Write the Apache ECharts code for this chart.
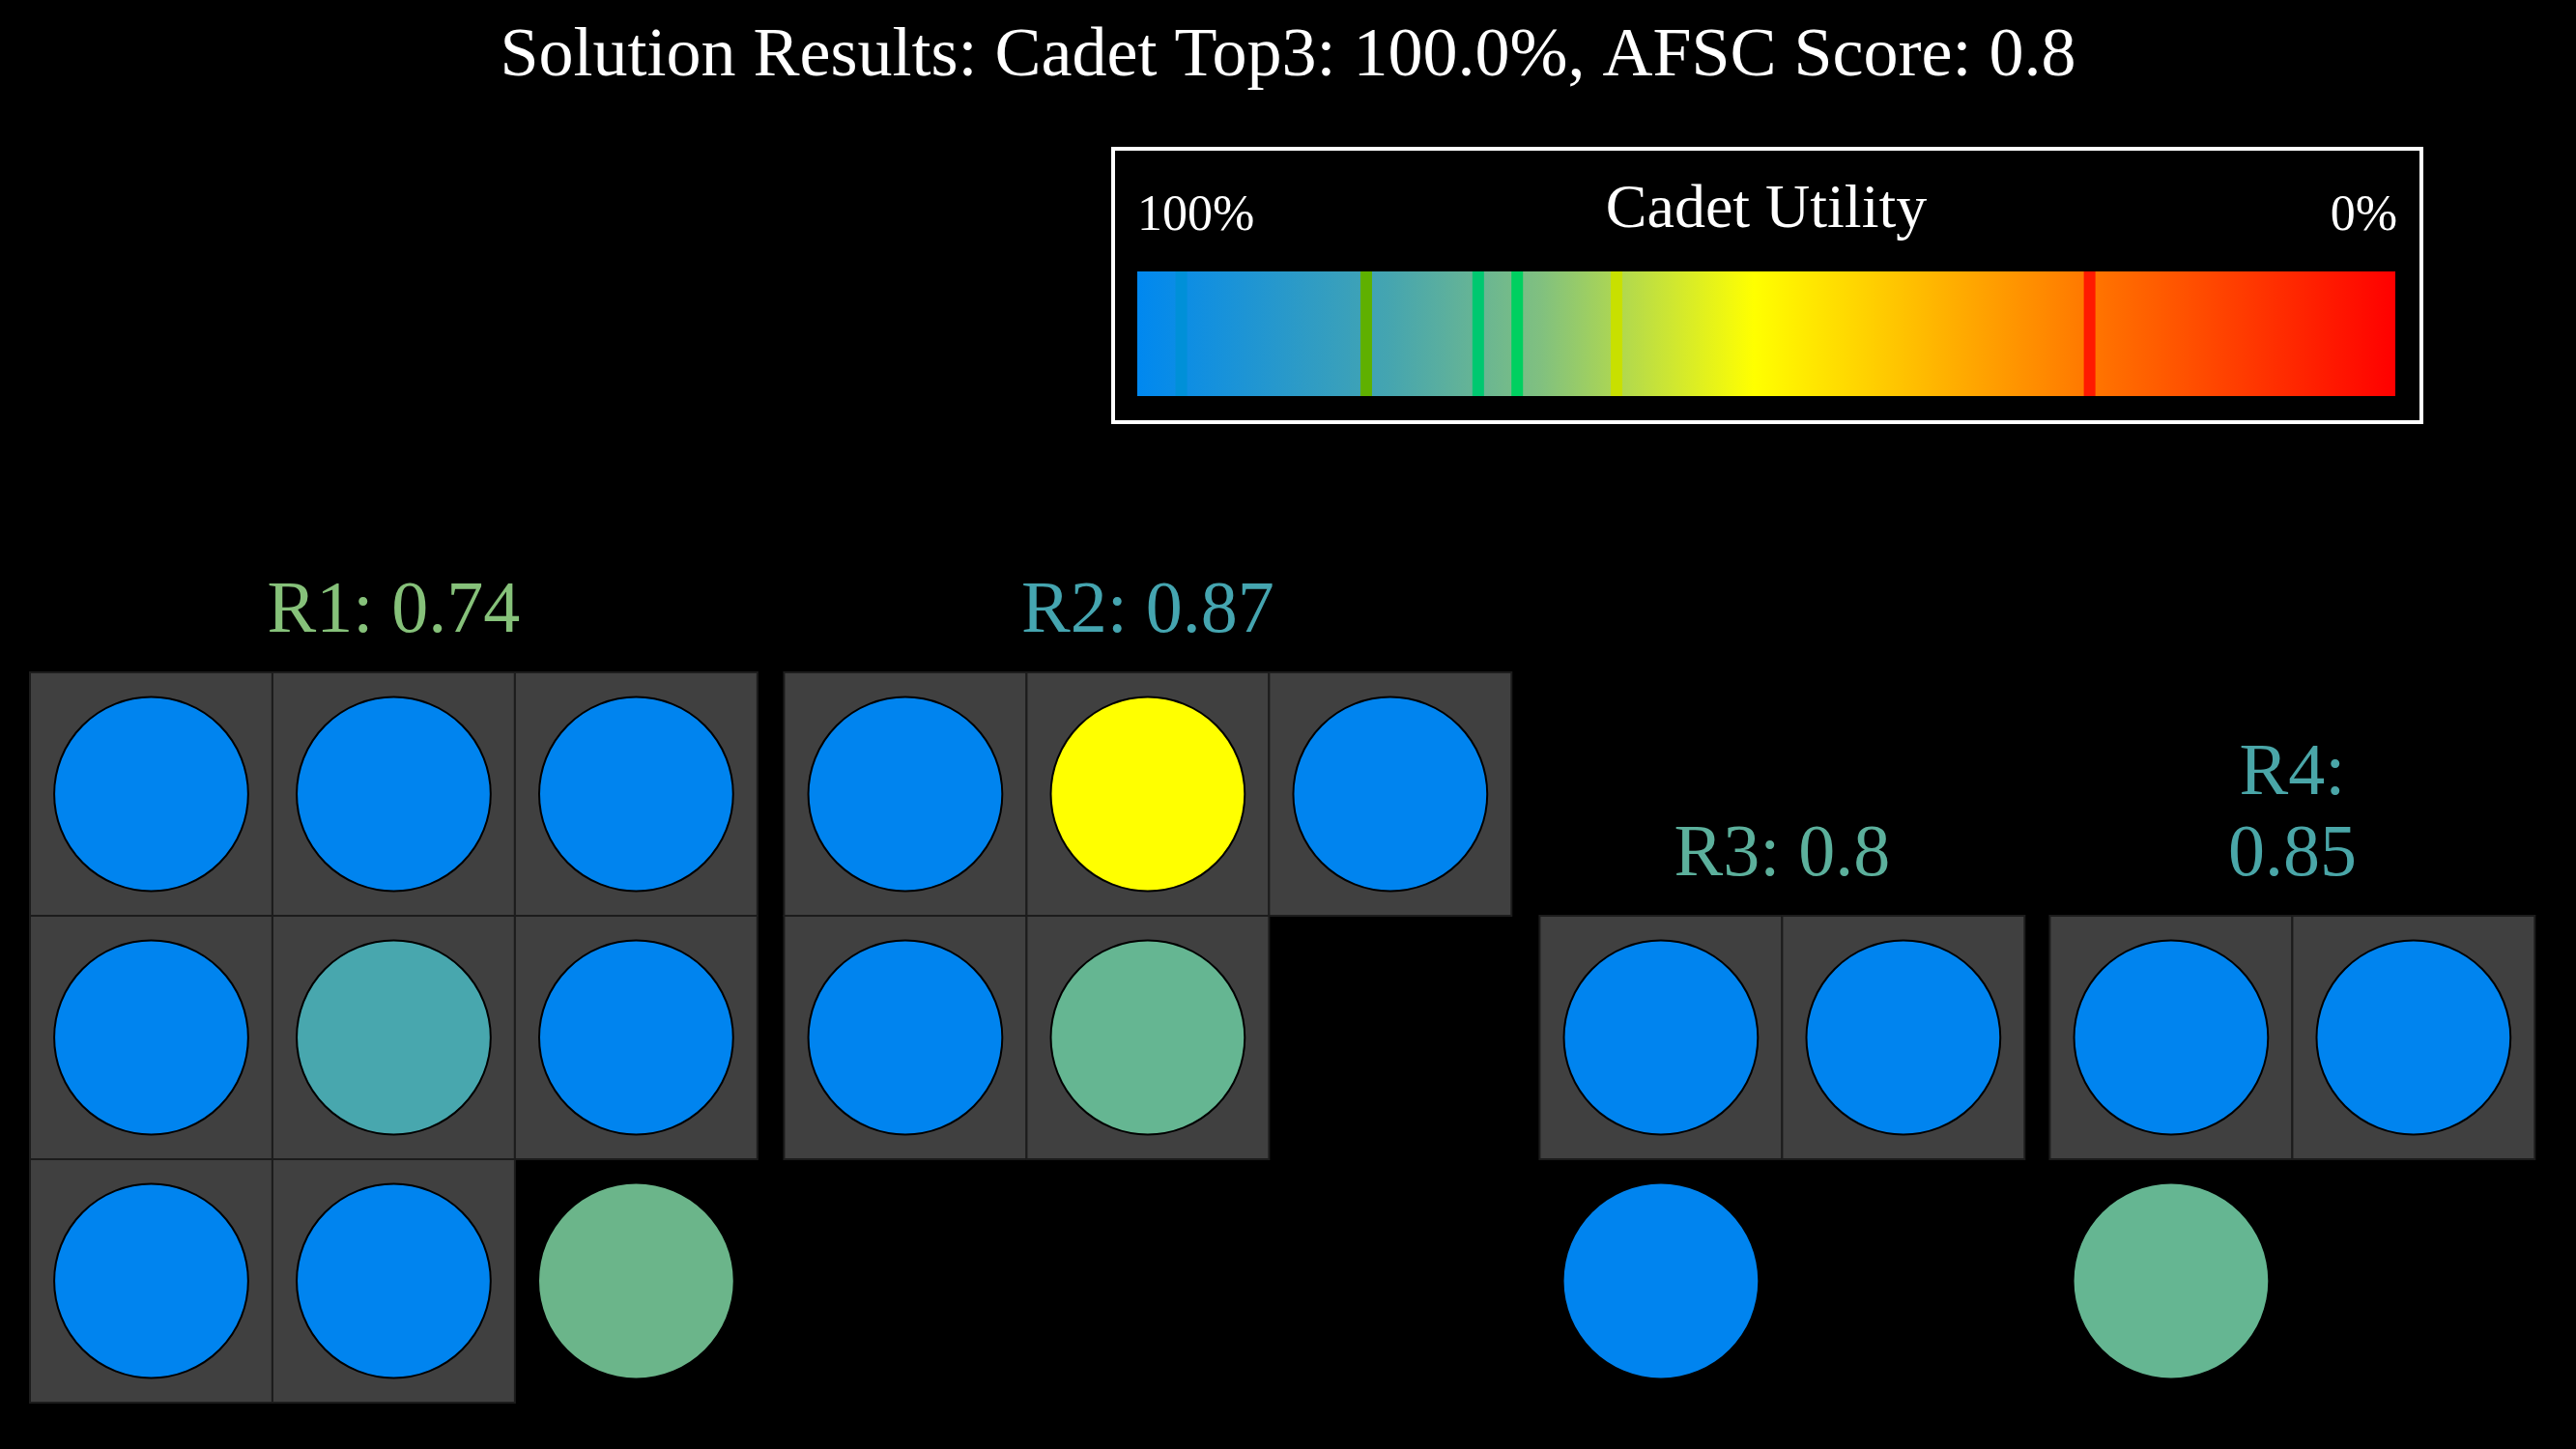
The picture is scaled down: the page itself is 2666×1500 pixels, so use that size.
<!DOCTYPE html>
<html><head><meta charset="utf-8">
<script src="https://cdn.jsdelivr.net/npm/echarts@6/dist/echarts.min.js"></script>
<style>html,body{margin:0;background:#000}#c{width:2666px;height:1500px}</style>
</head><body><div id="c"></div>
<script>
// Groups: name, score, label colour, x offset (cell units), first row
const groupNames = ['R1', 'R2', 'R3', 'R4'];
const groupScores = ['0.74', '0.87', '0.8', '0.85'];
const groupColors = ['#86c17a', '#45a5b0', '#5cb09c', '#4aa6a8'];
const groupOffsets = [0, 3.11, 6.226, 8.33];
const groupStartRow = [0, 0, 1, 1];
// Cells: [group, row, col, fill colour, inside a cell (1) or not (0)]
const cells = [
  [0,0,0,'#0084ef',1],[0,0,1,'#0084ef',1],[0,0,2,'#0084ef',1],
  [0,1,0,'#0084ef',1],[0,1,1,'#48a7ae',1],[0,1,2,'#0084ef',1],
  [0,2,0,'#0084ef',1],[0,2,1,'#0084ef',1],[0,2,2,'#6bb58a',0],
  [1,0,0,'#0084ef',1],[1,0,1,'#ffff00',1],[1,0,2,'#0084ef',1],
  [1,1,0,'#0084ef',1],[1,1,1,'#65b692',1],
  [2,0,0,'#0084ef',1],[2,0,1,'#0084ef',1],[2,1,0,'#0084ef',0],
  [3,0,0,'#0084ef',1],[3,0,1,'#0084ef',1],[3,1,0,'#65b692',0]
];
// Colour bar (utility 100 -> 0 left to right)
const barStops = [[0,'#0088f0'],[0.2,'#45a5b0'],[0.32,'#80c080'],[0.49,'#ffff00'],[0.75,'#ff7a00'],[1,'#ff0000']];
const stripeUtil = [96.5, 81.8, 72.9, 69.8, 61.9, 24.3];
const stripeColors = ['#0090d8','#5fb000','#00c870','#00d060','#c8e000','#ff1a00'];

const chart = echarts.init(document.getElementById('c'));
const F = 'Liberation Serif';
const U = 252;
chart.setOption({
  backgroundColor: '#000',
  animation: false,
  title: {text: 'Solution Results: Cadet Top3: 100.0%, AFSC Score: 0.8', left: 'center', top: 18,
    textStyle: {color: '#fff', fontFamily: F, fontSize: 72, fontWeight: 'normal'}},
  grid: [
    {left: 31, top: 696, width: 10.5 * U, height: 3 * U},
    {left: 1177, top: 281, width: 1302, height: 129}
  ],
  xAxis: [
    {gridIndex: 0, type: 'value', min: 0, max: 10.5, show: false},
    {gridIndex: 1, type: 'value', min: 0, max: 100, inverse: true, show: false}
  ],
  yAxis: [
    {gridIndex: 0, type: 'value', min: 0, max: 3, inverse: true, show: false},
    {gridIndex: 1, type: 'value', min: 0, max: 1, show: false}
  ],
  graphic: [
    {type: 'rect', shape: {x: 1152, y: 154, width: 1354, height: 283}, style: {fill: 'none', stroke: '#fff', lineWidth: 4}},
    {type: 'text', left: 1177, top: 198, style: {text: '100%', fill: '#fff', font: '52px "Liberation Serif"'}},
    {type: 'text', right: 2666 - 2481, top: 198, style: {text: '0%', fill: '#fff', font: '52px "Liberation Serif"'}},
    {type: 'text', x: 1828, y: 218, style: {text: 'Cadet Utility', fill: '#fff', font: '64px "Liberation Serif"', textAlign: 'center', textVerticalAlign: 'middle'}}
  ],
  series: [
    {type: 'custom', xAxisIndex: 1, yAxisIndex: 1, data: [[0]], renderItem: function (p, api) {
      const a = api.coord([100, 1]), b = api.coord([0, 0]);
      return {type: 'rect', shape: {x: a[0], y: a[1], width: b[0] - a[0], height: b[1] - a[1]},
        style: {fill: new echarts.graphic.LinearGradient(0, 0, 1, 0, barStops.map(s => ({offset: s[0], color: s[1]})))}};
    }},
    {type: 'custom', xAxisIndex: 1, yAxisIndex: 1, data: stripeUtil.map((u, i) => [u, i]), renderItem: function (p, api) {
      const a = api.coord([api.value(0), 1]), b = api.coord([api.value(0), 0]);
      return {type: 'rect', shape: {x: a[0] - 6, y: a[1], width: 12, height: b[1] - a[1]}, style: {fill: stripeColors[api.value(1)]}};
    }},
    {type: 'custom', xAxisIndex: 0, yAxisIndex: 0, data: cells.map(c => [groupOffsets[c[0]] + c[2], groupStartRow[c[0]] + c[1], c[4], c[0]]),
     renderItem: function (p, api) {
      const c = cells[p.dataIndex];
      const x0 = api.value(0), y0 = api.value(1);
      const a = api.coord([x0, y0]), b = api.coord([x0 + 1, y0 + 1]);
      const w = b[0] - a[0], h = b[1] - a[1];
      const ch = [];
      if (c[4]) ch.push({type: 'rect', shape: {x: a[0], y: a[1], width: w, height: h}, style: {fill: '#404040', stroke: '#1c1c1c', lineWidth: 2}});
      ch.push({type: 'circle', shape: {cx: a[0] + w / 2, cy: a[1] + h / 2, r: w * 0.4}, style: {fill: c[3], stroke: c[4] ? '#000' : null, lineWidth: 2}});
      return {type: 'group', children: ch};
    }},
    {type: 'custom', xAxisIndex: 0, yAxisIndex: 0, data: groupNames.map((n, i) => [groupOffsets[i], groupStartRow[i], i]),
     renderItem: function (p, api) {
      const i = p.dataIndex;
      const ncol = i < 2 ? 3 : 2;
      const a = api.coord([groupOffsets[i] + ncol / 2, groupStartRow[i]]);
      const txt = i === 3 ? groupNames[i] + ':\n' + groupScores[i] : groupNames[i] + ': ' + groupScores[i];
      return {type: 'text', x: a[0], y: a[1] - 20, style: {text: txt, fill: groupColors[i], font: '76px "Liberation Serif"', textAlign: 'center', textVerticalAlign: 'bottom', lineHeight: 84}};
    }}
  ]
});
</script></body></html>
